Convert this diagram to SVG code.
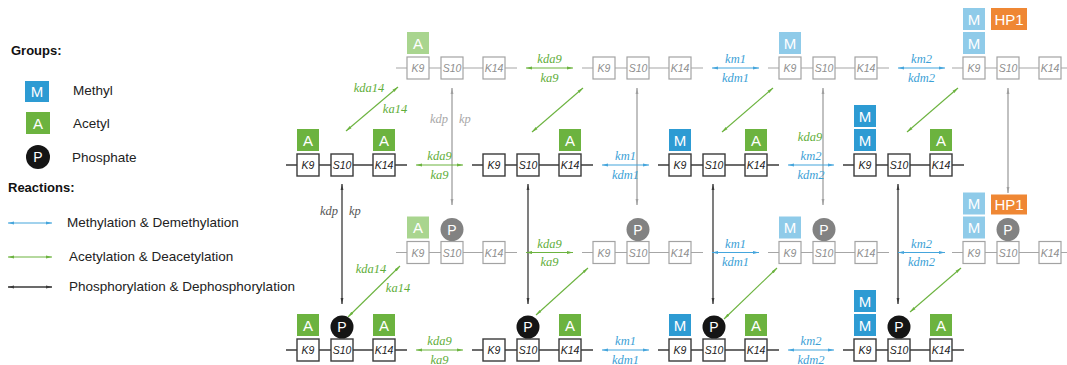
<svg xmlns="http://www.w3.org/2000/svg" width="1067" height="365" viewBox="0 0 1067 365">
  <style>
    .bb{stroke:#3a3a3a;stroke-width:1.5}
    .fb{stroke:#a6a6a6;stroke-width:1.2}
    .box{fill:#fff;stroke:#3a3a3a;stroke-width:1.4}
    .fbox{fill:#fff;stroke:#a3a3a3;stroke-width:1.2}
    .bl{font:italic 10.5px "Liberation Sans",Arial,sans-serif;fill:#222;text-anchor:middle}
    .fl{font:italic 10.5px "Liberation Sans",Arial,sans-serif;fill:#8e8e8e;text-anchor:middle}
    .mt{font:15px "Liberation Sans",Arial,sans-serif;fill:#fff;text-anchor:middle}
    .pt{font:14px "Liberation Sans",Arial,sans-serif;fill:#fff;text-anchor:middle}
    .gA{fill:#6cb33f}.lA{fill:#a9d58f}
    .gM{fill:#2d9bd3}.lM{fill:#8fcbe9}
    .gP{fill:#151515}.lP{fill:#828282}
    .hp{fill:#ef8734}
    .rate{font:italic 12.5px "Liberation Serif","Times New Roman",serif;text-anchor:middle}
    .rg{fill:#5fae3a}.rb{fill:#3c9fd6}
    .ag{stroke:#6cb33f;stroke-width:1.1;fill:none;marker-start:url(#hg);marker-end:url(#hg)}
    .ab{stroke:#45a5dc;stroke-width:1.1;fill:none;marker-start:url(#hb);marker-end:url(#hb)}
    .ak{stroke:#3a3a3a;stroke-width:1.3;fill:none;marker-start:url(#hk);marker-end:url(#hk)}
    .ay{stroke:#a0a0a0;stroke-width:1.3;fill:none;marker-start:url(#hy);marker-end:url(#hy)}
    .leg{font:13.5px "Liberation Sans",Arial,sans-serif;fill:#222}
    .legb{font:bold 13px "Liberation Sans",Arial,sans-serif;fill:#111}
  </style>
  <defs>
    <marker id="hg" markerUnits="userSpaceOnUse" markerWidth="7" markerHeight="5" refX="6" refY="2.5" orient="auto-start-reverse"><path d="M0,1.1 L6,2.5 L0,3.9 Z" fill="#6cb33f"/></marker>
    <marker id="hb" markerUnits="userSpaceOnUse" markerWidth="7" markerHeight="5" refX="6" refY="2.5" orient="auto-start-reverse"><path d="M0,1.1 L6,2.5 L0,3.9 Z" fill="#45a5dc"/></marker>
    <marker id="hk" markerUnits="userSpaceOnUse" markerWidth="7" markerHeight="5" refX="6" refY="2.5" orient="auto-start-reverse"><path d="M0,1.1 L6,2.5 L0,3.9 Z" fill="#3a3a3a"/></marker>
    <marker id="hy" markerUnits="userSpaceOnUse" markerWidth="7" markerHeight="5" refX="6" refY="2.5" orient="auto-start-reverse"><path d="M0,1.1 L6,2.5 L0,3.9 Z" fill="#a0a0a0"/></marker>
    <!-- plain unit: backbone + K9 / S10 / K14 boxes -->
    <g id="unitB">
      <line class="bb" x1="-11" y1="0" x2="110" y2="0"/>
      <rect class="box" x="0" y="-11" width="22" height="22"/>
      <rect class="box" x="34" y="-11" width="22" height="22"/>
      <rect class="box" x="76" y="-11" width="22" height="22"/>
      <text class="bl" x="11" y="4">K9</text>
      <text class="bl" x="45" y="4">S10</text>
      <text class="bl" x="87" y="4">K14</text>
    </g>
    <g id="unitF">
      <line class="fb" x1="-11" y1="0" x2="110" y2="0"/>
      <rect class="fbox" x="0" y="-11" width="22" height="22"/>
      <rect class="fbox" x="34" y="-11" width="22" height="22"/>
      <rect class="fbox" x="76" y="-11" width="22" height="22"/>
      <text class="fl" x="11" y="4">K9</text>
      <text class="fl" x="45" y="4">S10</text>
      <text class="fl" x="87" y="4">K14</text>
    </g>
  </defs>

  <!-- legend -->
  <g id="legend">
    <text class="legb" x="11" y="55">Groups:</text>
    <rect class="gM" x="25" y="81" width="24" height="21"/>
    <text class="mt" x="37" y="97">M</text>
    <text class="leg" x="73" y="95">Methyl</text>
    <rect class="gA" x="26" y="112" width="24" height="22"/>
    <text class="mt" x="38" y="128.5">A</text>
    <text class="leg" x="73" y="128">Acetyl</text>
    <circle class="gP" cx="38" cy="157" r="12"/>
    <text class="pt" x="38" y="162">P</text>
    <text class="leg" x="72" y="162">Phosphate</text>
    <text class="legb" x="8" y="192">Reactions:</text>
    <line class="ab" x1="8" y1="223" x2="52" y2="223"/>
    <text class="leg" x="67" y="227">Methylation &amp; Demethylation</text>
    <line class="ag" x1="8" y1="257" x2="52" y2="257"/>
    <text class="leg" x="69" y="261">Acetylation &amp; Deacetylation</text>
    <line class="ak" x1="8" y1="287" x2="52" y2="287"/>
    <text class="leg" x="69" y="291">Phosphorylation &amp; Dephosphorylation</text>
  </g>

  <!-- reactions -->
  <g id="connectors">
    <!-- phosphorylation, back layer -->
    <line class="ay" x1="452" y1="88" x2="452" y2="205"/>
    <line class="ay" x1="637" y1="88" x2="637" y2="205"/>
    <line class="ay" x1="823" y1="88" x2="823" y2="205"/>
    <line class="ay" x1="1008" y1="88" x2="1008" y2="193"/>
    <text class="rate" x="448" y="123" style="text-anchor:end;fill:#a8a8a8">kdp</text>
    <text class="rate" x="459" y="123" style="text-anchor:start;fill:#a8a8a8">kp</text>
    <!-- phosphorylation, front layer -->
    <line class="ak" x1="342" y1="184" x2="342" y2="304"/>
    <line class="ak" x1="528" y1="184" x2="528" y2="304"/>
    <line class="ak" x1="713" y1="184" x2="713" y2="304"/>
    <line class="ak" x1="898" y1="184" x2="898" y2="304"/>
    <text class="rate" x="338" y="215" style="text-anchor:end;fill:#555">kdp</text>
    <text class="rate" x="349" y="215" style="text-anchor:start;fill:#555">kp</text>

    <!-- row 1 -->
    <line class="ag" x1="526" y1="68" x2="573" y2="68"/>
    <text class="rate rg" x="549.5" y="63">kda9</text>
    <text class="rate rg" x="549.5" y="81.5">ka9</text>
    <line class="ab" x1="712" y1="68" x2="759" y2="68"/>
    <text class="rate rb" x="735.5" y="63">km1</text>
    <text class="rate rb" x="735.5" y="81.5">kdm1</text>
    <line class="ab" x1="898" y1="68" x2="945" y2="68"/>
    <text class="rate rb" x="921.5" y="63">km2</text>
    <text class="rate rb" x="921.5" y="81.5">kdm2</text>

    <!-- row 2 -->
    <line class="ag" x1="416" y1="165" x2="463" y2="165"/>
    <text class="rate rg" x="439.5" y="160">kda9</text>
    <text class="rate rg" x="439.5" y="178.5">ka9</text>
    <line class="ab" x1="602" y1="165" x2="649" y2="165"/>
    <text class="rate rb" x="625.5" y="160">km1</text>
    <text class="rate rb" x="625.5" y="178.5">kdm1</text>
    <line class="ab" x1="788" y1="165" x2="834" y2="165"/>
    <text class="rate rg" x="810" y="141">kda9</text>
    <text class="rate rb" x="811" y="160">km2</text>
    <text class="rate rb" x="811" y="178.5">kdm2</text>

    <!-- row 3 -->
    <line class="ag" x1="526" y1="252.5" x2="573" y2="252.5"/>
    <text class="rate rg" x="549.5" y="248">kda9</text>
    <text class="rate rg" x="549.5" y="266">ka9</text>
    <line class="ab" x1="712" y1="252.5" x2="759" y2="252.5"/>
    <text class="rate rb" x="735.5" y="248">km1</text>
    <text class="rate rb" x="735.5" y="266">kdm1</text>
    <line class="ab" x1="898" y1="252.5" x2="945" y2="252.5"/>
    <text class="rate rb" x="921.5" y="248">km2</text>
    <text class="rate rb" x="921.5" y="266">kdm2</text>

    <!-- row 4 -->
    <line class="ag" x1="416" y1="350" x2="463" y2="350"/>
    <text class="rate rg" x="439.5" y="345">kda9</text>
    <text class="rate rg" x="439.5" y="363.5">ka9</text>
    <line class="ab" x1="602" y1="350" x2="649" y2="350"/>
    <text class="rate rb" x="625.5" y="345">km1</text>
    <text class="rate rb" x="625.5" y="363.5">kdm1</text>
    <line class="ab" x1="788" y1="350" x2="834" y2="350"/>
    <text class="rate rb" x="811" y="345">km2</text>
    <text class="rate rb" x="811" y="363.5">kdm2</text>

    <!-- K14 acetylation, front to back -->
    <line class="ag" x1="346" y1="131" x2="398" y2="87"/>
    <text class="rate rg" x="369" y="92">kda14</text>
    <text class="rate rg" x="395" y="113">ka14</text>
    <line class="ag" x1="532" y1="132" x2="583" y2="88"/>
    <line class="ag" x1="722" y1="132" x2="773" y2="88"/>
    <line class="ag" x1="907" y1="132" x2="958" y2="88"/>
    <line class="ag" x1="348" y1="317" x2="400" y2="266"/>
    <text class="rate rg" x="371" y="273">kda14</text>
    <text class="rate rg" x="398" y="292">ka14</text>
    <line class="ag" x1="536" y1="315" x2="588" y2="268"/>
    <line class="ag" x1="724" y1="319" x2="777" y2="268"/>
    <line class="ag" x1="910" y1="312" x2="961" y2="268"/>
  </g>

  <!-- row 1: back layer, unphosphorylated -->
  <g id="a1" transform="translate(407,68)">
    <use href="#unitF"/>
    <rect class="lA" x="0" y="-36" width="22" height="22"/><text class="mt" x="11" y="-19.5">A</text>
  </g>
  <g id="a2" transform="translate(593,68)">
    <use href="#unitF"/>
  </g>
  <g id="a3" transform="translate(779,68)">
    <use href="#unitF"/>
    <rect class="lM" x="0" y="-36" width="22" height="22"/><text class="mt" x="11" y="-19.5">M</text>
  </g>
  <g id="a4" transform="translate(963,68)">
    <use href="#unitF"/>
    <rect class="lM" x="0" y="-36" width="22" height="22"/><text class="mt" x="11" y="-19.5">M</text>
    <rect class="lM" x="0" y="-60" width="22" height="22"/><text class="mt" x="11" y="-43.5">M</text>
    <rect class="hp" x="28" y="-60" width="36" height="22"/><text class="mt" x="46" y="-43.5">HP1</text>
  </g>

  <!-- row 2: front layer, unphosphorylated -->
  <g id="b1" transform="translate(297,165)">
    <use href="#unitB"/>
    <rect class="gA" x="0" y="-36" width="22" height="22"/><text class="mt" x="11" y="-19.5">A</text>
    <rect class="gA" x="76" y="-36" width="22" height="22"/><text class="mt" x="87" y="-19.5">A</text>
  </g>
  <g id="b2" transform="translate(483,165)">
    <use href="#unitB"/>
    <rect class="gA" x="76" y="-36" width="22" height="22"/><text class="mt" x="87" y="-19.5">A</text>
  </g>
  <g id="b3" transform="translate(669,165)">
    <use href="#unitB"/>
    <rect class="gM" x="0" y="-36" width="22" height="22"/><text class="mt" x="11" y="-19.5">M</text>
    <rect class="gA" x="76" y="-36" width="22" height="22"/><text class="mt" x="87" y="-19.5">A</text>
  </g>
  <g id="b4" transform="translate(854,165)">
    <use href="#unitB"/>
    <rect class="gM" x="0" y="-36" width="22" height="22"/><text class="mt" x="11" y="-19.5">M</text>
    <rect class="gM" x="0" y="-60" width="22" height="22"/><text class="mt" x="11" y="-43.5">M</text>
    <rect class="gA" x="76" y="-36" width="22" height="22"/><text class="mt" x="87" y="-19.5">A</text>
  </g>

  <!-- row 3: back layer, phosphorylated -->
  <g id="c1" transform="translate(407,252.5)">
    <use href="#unitF"/>
    <rect class="lA" x="0" y="-36" width="22" height="22"/><text class="mt" x="11" y="-19.5">A</text>
    <circle class="lP" cx="45" cy="-23" r="11.5"/><text class="pt" x="45" y="-18">P</text>
  </g>
  <g id="c2" transform="translate(593,252.5)">
    <use href="#unitF"/>
    <circle class="lP" cx="45" cy="-23" r="11.5"/><text class="pt" x="45" y="-18">P</text>
  </g>
  <g id="c3" transform="translate(779,252.5)">
    <use href="#unitF"/>
    <rect class="lM" x="0" y="-36" width="22" height="22"/><text class="mt" x="11" y="-19.5">M</text>
    <circle class="lP" cx="45" cy="-23" r="11.5"/><text class="pt" x="45" y="-18">P</text>
  </g>
  <g id="c4" transform="translate(963,252.5)">
    <use href="#unitF"/>
    <rect class="lM" x="0" y="-36" width="22" height="22"/><text class="mt" x="11" y="-19.5">M</text>
    <rect class="lM" x="0" y="-60" width="22" height="22"/><text class="mt" x="11" y="-43.5">M</text>
    <rect class="hp" x="28" y="-58" width="36" height="20"/><text class="mt" x="46" y="-42.5">HP1</text>
    <circle class="lP" cx="45" cy="-23" r="11.5"/><text class="pt" x="45" y="-18">P</text>
  </g>

  <!-- row 4: front layer, phosphorylated -->
  <g id="d1" transform="translate(297,350)">
    <use href="#unitB"/>
    <rect class="gA" x="0" y="-36" width="22" height="22"/><text class="mt" x="11" y="-19.5">A</text>
    <circle class="gP" cx="45" cy="-23" r="11.5"/><text class="pt" x="45" y="-18">P</text>
    <rect class="gA" x="76" y="-36" width="22" height="22"/><text class="mt" x="87" y="-19.5">A</text>
  </g>
  <g id="d2" transform="translate(483,350)">
    <use href="#unitB"/>
    <circle class="gP" cx="45" cy="-23" r="11.5"/><text class="pt" x="45" y="-18">P</text>
    <rect class="gA" x="76" y="-36" width="22" height="22"/><text class="mt" x="87" y="-19.5">A</text>
  </g>
  <g id="d3" transform="translate(669,350)">
    <use href="#unitB"/>
    <rect class="gM" x="0" y="-36" width="22" height="22"/><text class="mt" x="11" y="-19.5">M</text>
    <circle class="gP" cx="45" cy="-23" r="11.5"/><text class="pt" x="45" y="-18">P</text>
    <rect class="gA" x="76" y="-36" width="22" height="22"/><text class="mt" x="87" y="-19.5">A</text>
  </g>
  <g id="d4" transform="translate(854,350)">
    <use href="#unitB"/>
    <rect class="gM" x="0" y="-36" width="22" height="22"/><text class="mt" x="11" y="-19.5">M</text>
    <rect class="gM" x="0" y="-60" width="22" height="22"/><text class="mt" x="11" y="-43.5">M</text>
    <circle class="gP" cx="45" cy="-23" r="11.5"/><text class="pt" x="45" y="-18">P</text>
    <rect class="gA" x="76" y="-36" width="22" height="22"/><text class="mt" x="87" y="-19.5">A</text>
  </g>
</svg>
